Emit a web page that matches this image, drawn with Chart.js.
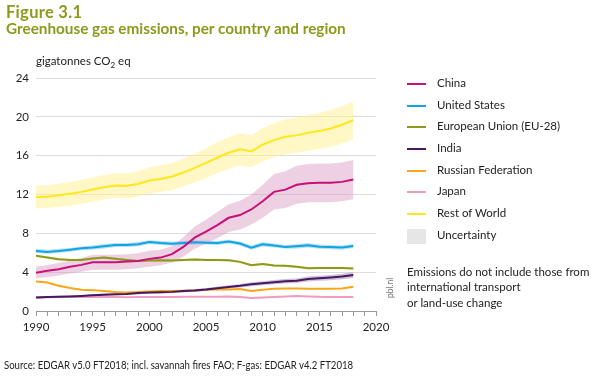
<!DOCTYPE html>
<html><head><meta charset="utf-8">
<script src="https://cdn.jsdelivr.net/npm/chart.js@4/dist/chart.umd.min.js"></script>
<style>
html,body{margin:0;padding:0;background:#fff;}
#wrap{position:relative;width:613px;height:378px;overflow:hidden;font-family:Lato,"Noto Sans",sans-serif;color:#222;}
canvas{position:absolute;left:0;top:0;}
.t{position:absolute;white-space:nowrap;}
.title{color:#8c9a1c;font-weight:bold;left:6px;}
.lg{position:absolute;left:407px;font-size:11.5px;}
.lg span.sw{position:absolute;left:0;width:19px;height:2px;}
.lg span.tx{position:absolute;left:30px;top:-8px;white-space:nowrap;}
</style></head>
<body><div id="wrap">
<canvas id="c" width="613" height="378"></canvas>
<div class="t title" style="top:2px;font-size:16.5px;letter-spacing:0.3px;">Figure 3.1</div>
<div class="t title" style="top:19px;font-size:15.3px;">Greenhouse gas emissions, per country and region</div>
<div class="t" style="left:36px;top:54px;font-size:11.5px;">gigatonnes CO<sub style="font-size:8px;vertical-align:-3px;">2</sub> eq</div>
<div id="legend"></div>
<div class="t" style="left:407px;top:264px;font-size:11.5px;line-height:15.3px;">Emissions do not include those from<br>international transport<br>or land-use change</div>
<div class="t" style="left:386px;top:298px;font-size:8.5px;line-height:8px;color:#777;transform:rotate(-90deg);transform-origin:0 0;">pbl.nl</div>
<div class="t" style="left:4px;top:358px;font-size:11.3px;transform:scaleX(0.85);transform-origin:0 0;">Source: EDGAR v5.0 FT2018; incl. savannah fires FAO; F-gas: EDGAR v4.2 FT2018</div>
</div>
<script>
const years = [1990,1991,1992,1993,1994,1995,1996,1997,1998,1999,2000,2001,2002,2003,2004,2005,2006,2007,2008,2009,2010,2011,2012,2013,2014,2015,2016,2017,2018];
const china   = [3.94,4.14,4.31,4.55,4.75,5.03,5.03,5.03,5.09,5.16,5.37,5.5,5.85,6.6,7.56,8.17,8.85,9.6,9.88,10.46,11.3,12.27,12.5,13.0,13.17,13.2,13.2,13.3,13.54];
const chinaHi = [4.55,4.75,4.95,5.2,5.45,5.8,5.8,5.8,5.85,5.95,6.2,6.3,6.7,7.6,8.7,9.4,10.2,11.0,11.35,12.0,13.0,14.1,14.4,14.95,15.15,15.2,15.2,15.3,15.55];
const chinaLo = [3.35,3.5,3.65,3.85,4.05,4.25,4.25,4.25,4.3,4.4,4.55,4.7,5.0,5.6,6.4,6.95,7.5,8.15,8.4,8.9,9.6,10.45,10.6,11.05,11.2,11.2,11.2,11.3,11.5];
const us   = [6.19,6.09,6.19,6.32,6.46,6.53,6.67,6.8,6.8,6.87,7.1,7.0,6.94,7.0,7.08,7.04,7.0,7.15,6.95,6.53,6.87,6.75,6.6,6.68,6.77,6.62,6.58,6.53,6.7];
const usHi = [6.4,6.3,6.4,6.5,6.65,6.75,6.9,7.0,7.0,7.1,7.3,7.2,7.15,7.2,7.3,7.25,7.2,7.35,7.15,6.75,7.1,6.95,6.8,6.9,7.0,6.85,6.8,6.75,6.9];
const usLo = [6.0,5.9,6.0,6.1,6.25,6.3,6.45,6.6,6.6,6.65,6.9,6.8,6.75,6.8,6.85,6.85,6.8,6.95,6.75,6.3,6.65,6.55,6.4,6.45,6.55,6.4,6.35,6.3,6.5];
const eu   = [5.68,5.5,5.33,5.26,5.26,5.4,5.5,5.37,5.26,5.16,5.2,5.23,5.2,5.26,5.3,5.26,5.26,5.23,5.06,4.72,4.85,4.68,4.65,4.55,4.41,4.44,4.44,4.44,4.38];
const euHi = [5.8,5.62,5.45,5.38,5.38,5.52,5.62,5.49,5.38,5.28,5.32,5.35,5.32,5.38,5.42,5.38,5.38,5.35,5.18,4.84,4.97,4.8,4.77,4.67,4.53,4.56,4.56,4.56,4.5];
const euLo = [5.56,5.38,5.21,5.14,5.14,5.28,5.38,5.25,5.14,5.04,5.08,5.11,5.08,5.14,5.18,5.14,5.14,5.11,4.94,4.6,4.73,4.56,4.53,4.43,4.29,4.32,4.32,4.32,4.26];
const india   = [1.4,1.43,1.47,1.5,1.55,1.62,1.68,1.72,1.76,1.85,1.9,1.93,1.97,2.05,2.12,2.22,2.35,2.48,2.6,2.75,2.85,2.97,3.07,3.12,3.3,3.37,3.45,3.55,3.7];
const indiaHi = [1.5,1.53,1.57,1.6,1.66,1.73,1.8,1.84,1.88,1.98,2.03,2.07,2.11,2.19,2.27,2.38,2.52,2.66,2.79,2.95,3.06,3.19,3.3,3.36,3.55,3.63,3.72,3.83,3.99];
const indiaLo = [1.3,1.33,1.37,1.4,1.44,1.51,1.56,1.6,1.64,1.72,1.77,1.79,1.83,1.91,1.97,2.06,2.18,2.3,2.41,2.55,2.64,2.75,2.84,2.88,3.05,3.11,3.18,3.27,3.41];
const russia = [3.04,2.94,2.6,2.36,2.19,2.15,2.05,1.95,1.91,1.95,2.02,2.05,2.05,2.09,2.12,2.19,2.22,2.22,2.26,2.05,2.19,2.29,2.32,2.32,2.29,2.29,2.29,2.32,2.5];
const japan  = [1.4,1.42,1.43,1.44,1.45,1.44,1.45,1.45,1.42,1.44,1.45,1.44,1.45,1.46,1.47,1.47,1.48,1.5,1.45,1.33,1.4,1.45,1.5,1.54,1.5,1.46,1.45,1.44,1.44];
const row   = [11.73,11.76,11.93,12.07,12.27,12.51,12.75,12.92,12.89,13.09,13.44,13.6,13.85,14.26,14.74,15.25,15.8,16.3,16.65,16.44,17.13,17.6,17.95,18.09,18.36,18.53,18.8,19.18,19.66];
const rowHi = [12.9,12.95,13.1,13.3,13.5,13.75,14.0,14.2,14.2,14.4,14.8,14.95,15.25,15.7,16.2,16.8,17.4,17.9,18.3,18.1,18.85,19.35,19.75,19.9,20.2,20.4,20.7,21.1,21.6];
const rowLo = [10.55,10.6,10.75,10.85,11.05,11.25,11.5,11.65,11.6,11.8,12.1,12.25,12.45,12.85,13.25,13.7,14.2,14.65,15.0,14.8,15.4,15.85,16.15,16.3,16.5,16.7,16.9,17.25,17.7];
const yTicks = [0,4,8,12,16,20,24];
const xLabels = [1990,1995,2000,2005,2010,2015,2020];

const seriesNames = ['China','United States','European Union (EU-28)','India','Russian Federation','Japan','Rest of World'];
const seriesColors = ['#c8107a','#12a3e3','#8e9a17','#46195f','#f9a51a','#f39ac3','#ffe81a'];
const seriesData = [china,us,eu,india,russia,japan,row];
const seriesOrder = [0,2,4,1,3,5,9];
const bands = [
  {hi:rowHi, lo:rowLo, color:'rgba(255,240,150,0.55)'},
  {hi:chinaHi, lo:chinaLo, color:'rgba(215,150,190,0.45)'},
  {hi:usHi, lo:usLo, color:'rgba(120,200,240,0.55)'},
  {hi:euHi, lo:euLo, color:'rgba(190,200,120,0.4)'},
  {hi:indiaHi, lo:indiaLo, color:'rgba(150,120,175,0.45)'}
];
const pts = arr => arr.map((v,i)=>({x:years[i], y:v}));

const datasets = [];
bands.forEach((b,k)=>{
  datasets.push({data:pts(b.lo), borderWidth:0, pointRadius:0, fill:false, order:20+k});
  datasets.push({data:pts(b.hi), borderWidth:0, pointRadius:0, fill:'-1', backgroundColor:b.color, order:20+k});
});
seriesData.forEach((d,i)=>{
  datasets.push({label:seriesNames[i], data:pts(d), borderColor:seriesColors[i], borderWidth:2, pointRadius:0, fill:false, tension:0, order:seriesOrder[i]});
});

new Chart(document.getElementById('c'), {
  type:'line',
  data:{datasets},
  options:{
    responsive:false, animation:false, devicePixelRatio:1,
    layout:{padding:{top:78,right:237,bottom:0,left:0}},
    plugins:{legend:{display:false}, tooltip:{enabled:false}},
    scales:{
      x:{type:'linear', min:1990, max:2020,
        afterBuildTicks:s=>{s.ticks=[];for(let y=1990;y<=2020;y++)s.ticks.push({value:y});},
        afterFit:s=>{s.height=67;},
        ticks:{autoSkip:false, maxRotation:0, padding:4, color:'#222', font:{family:'Lato', size:11.5},
          callback:v=>xLabels.includes(v)?String(v):''},
        grid:{drawOnChartArea:false, drawTicks:true, tickLength:5, color:'#999'},
        border:{display:true, color:'#999', width:1}
      },
      y:{min:0, max:24,
        afterBuildTicks:s=>{s.ticks=yTicks.map(v=>({value:v}));},
        afterFit:s=>{s.width=36;},
        ticks:{padding:7, color:'#222', font:{family:'Lato', size:11.5}},
        grid:{color:'#dcdcdc', drawTicks:false},
        border:{display:false}
      }
    }
  }
});

const lg = document.getElementById('legend');
const rowsY = [84,105.5,127,149,170.5,192,214];
seriesNames.forEach((n,i)=>{
  const d = document.createElement('div'); d.className='lg'; d.style.top=rowsY[i]+'px';
  d.innerHTML = `<span class="sw" style="background:${seriesColors[i]};top:-1px"></span><span class="tx">${n}</span>`;
  lg.appendChild(d);
});
const u = document.createElement('div'); u.className='lg'; u.style.top='236px';
u.innerHTML = `<span class="sw" style="background:#e6e6e6;height:15px;top:-7px"></span><span class="tx">Uncertainty</span>`;
lg.appendChild(u);
</script>
</body></html>
